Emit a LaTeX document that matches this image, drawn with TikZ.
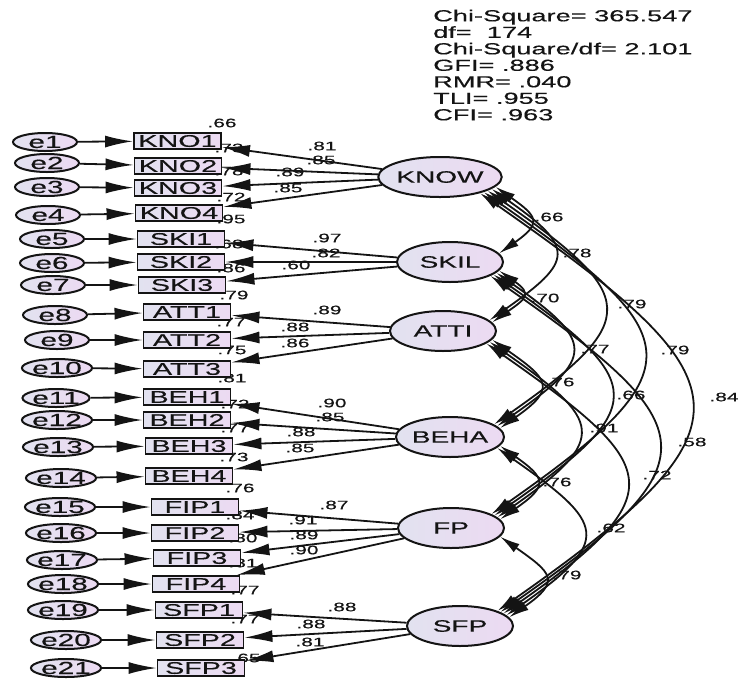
\documentclass[tikz,border=0pt]{standalone}
\usepackage{fontspec}
\setmainfont{Liberation Sans}[FakeStretch=1.7,FakeBold=0.4]
\usetikzlibrary{shapes.geometric,arrows.meta}
\definecolor{lavL}{RGB}{226,226,240}
\definecolor{lavR}{RGB}{236,218,242}
\definecolor{ink}{RGB}{20,20,20}
\begin{document}
\begin{tikzpicture}[x=1pt,y=1pt,
  lat/.style={ellipse,draw=ink,line width=2pt,left color=lavL,right color=lavR,
    minimum width=106pt,minimum height=40pt,inner sep=0pt,text=ink,
    font=\fontsize{16.5}{18}\selectfont},
  err/.style={ellipse,draw=ink,line width=2pt,left color=lavL,right color=lavR,
    minimum width=64pt,minimum height=18pt,inner sep=0pt,text=ink,
    font=\fontsize{17.5}{18}\selectfont},
  obs/.style={rectangle,draw=ink,line width=1.9pt,left color=lavL,right color=lavR,
    minimum width=87pt,minimum height=16pt,inner sep=0pt,text=ink,
    font=\fontsize{16.9}{17}\selectfont},
  num/.style={inner sep=0pt,text=ink,font=\fontsize{12.3}{13}\selectfont},
  pth/.style={line width=1.8pt,draw=ink,-{Latex[length=28pt,width=12pt]}},
  cov/.style={line width=1.8pt,draw=ink,{Latex[length=20pt,width=10pt]}-{Latex[length=20pt,width=10pt]}}
]
\useasboundingbox (0,0) rectangle (739,-681);

% squared multiple correlations (behind)
\foreach \x/\y/\t [count=\i] in {222/123/.66,229/148/.73,229/171/.78,231/197/.72,231/219/.95,
  229/244/.68,231/268/.86,234/295/.79,231/322/.77,232/350/.75,232/378/.81,235/404/.72,
  235/428/.77,234/457/.73,240/488/.76,240/515/.84,243/538/.80,243/563/.81,245/590/.77,
  245/619/.77,246/658/.65}
  \node[num] (r\i) at (\x,-\y) {\t};

% latent variables
\node[lat] (KNOW) at (440,-177) {KNOW};
\node[lat] (SKIL) at (450,-262) {SKIL};
\node[lat] (ATTI) at (443,-331) {ATTI};
\node[lat] (BEHA) at (450,-437) {BEHA};
\node[lat] (FP)   at (451,-528) {FP};
\node[lat] (SFP)  at (460,-626) {SFP};

% errors and indicators
\foreach \n/\ex/\ey/\bx/\by/\lab in {
  1/45/142/177.5/141/KNO1, 2/47/163/178/166/KNO2, 3/47/187/178/188/KNO3, 4/48/215/179/213/KNO4,
  5/52/239/181/239/SKI1, 6/52/263/181/262/SKI2, 7/53/285/182/285/SKI3,
  8/55/315/187/312/ATT1, 9/57/340/187/340/ATT2, 10/57/368/187/369/ATT3,
  11/56/398/187/397/BEH1, 12/57/420/187/420/BEH2, 13/58/447/189/446/BEH3, 14/61/478/189/476/BEH4,
  15/60/507/195/507/FIP1, 16/61/533/195/533/FIP2, 17/62/560/197/558/FIP3, 18/63/584/196/584/FIP4,
  19/63/610/199/610/SFP1, 20/66/640/200/640/SFP2, 21/66/668/201/668/SFP3}
{
  \node[err] (e\n) at (\ex,-\ey) {e\n};
  \node[obs] (b\n) at (\bx,-\by) {\lab};
  \draw[pth] (e\n) -- (b\n);
}

% loadings
\foreach \b/\L in {1/KNOW,2/KNOW,3/KNOW,4/KNOW,5/SKIL,6/SKIL,7/SKIL,8/ATTI,9/ATTI,10/ATTI,
  11/BEHA,12/BEHA,13/BEHA,14/BEHA,15/FP,16/FP,17/FP,18/FP,19/SFP,20/SFP,21/SFP}
  \draw[pth] (\L) -- (b\b);

\foreach \x/\y/\t [count=\i] in {322/146/.81,321/160/.85,290/172/.89,288/188/.85,
  327/238/.97,326/253/.82,296/265/.60,327/310/.89,295/327/.88,295/343/.86,
  332/403/.90,330/417/.85,301/432/.88,300/448/.85,334/505/.87,303/520/.91,304/535/.89,
  304/550/.90,342/607/.88,311/624/.88,310/642/.81}
  \node[num] (l\i) at (\x,-\y) {\t};

% covariances
\foreach \a/\b/\sa/\sb in {KNOW/SKIL/-10/10, SKIL/ATTI/-10/10, ATTI/BEHA/-10/10, BEHA/FP/-10/10, FP/SFP/-10/10,
  KNOW/ATTI/-13/13, SKIL/BEHA/-13/13, ATTI/FP/-13/13, BEHA/SFP/-13/13,
  KNOW/BEHA/-16/16, SKIL/FP/-16/16, ATTI/SFP/-16/16,
  KNOW/FP/-19/19, SKIL/SFP/-19/19, KNOW/SFP/-22/22}
  \draw[cov] (\a.\sa) to[out=-35,in=35,looseness=2] (\b.\sb);

\foreach \x/\y/\t [count=\i] in {549/217/.66,577/253/.78,545/298/.70,632/304/.79,595/349/.77,
  675/350/.79,560/382/.76,631/395/.66,724/397/.84,604/428/.91,692/442/.58,557/482/.76,
  657/475/.72,611/528/.62,567/575/.79}
  \node[num] (c\i) at (\x,-\y) {\t};

% fit statistics
\node[anchor=north west,align=left,inner sep=0pt,text=ink,
  font=\fontsize{16}{16.5}\selectfont] (fit) at (433,-9.5)
  {Chi-Square= 365.547\\df=\ \ 174\\Chi-Square/df= 2.101\\GFI= .886\\RMR= .040\\TLI= .955\\CFI= .963};
\end{tikzpicture}
\end{document}
